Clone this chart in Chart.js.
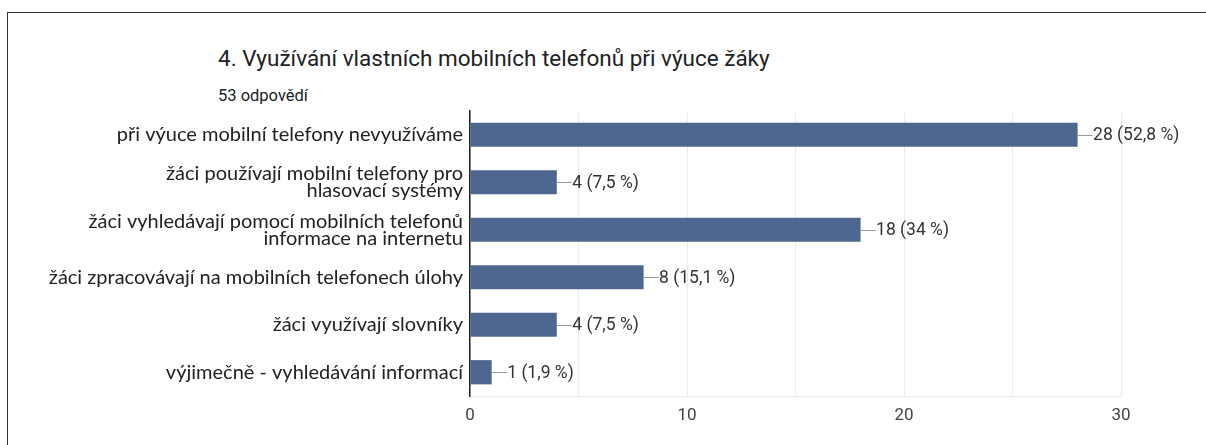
<!DOCTYPE html>
<html>
<head>
<meta charset="utf-8">
<script src="https://cdn.jsdelivr.net/npm/chart.js@4"></script>
<style>
  html, body { margin:0; padding:0; background:#fff; }
  body { width:1206px; height:445px; position:relative; overflow:hidden; }
  #card { position:absolute; left:7px; top:12px; width:1199px; height:433px;
          border-top:1.5px solid #333; border-left:1.5px solid #333; box-sizing:border-box; }
  #title { position:absolute; left:218px; top:45px; font-family:Roboto, sans-serif; font-size:22.5px; line-height:26px; color:#202124; white-space:nowrap; }
  #sub { position:absolute; left:218px; top:86px; font-family:Roboto, sans-serif; font-size:16.5px; line-height:20px; color:#202124; white-space:nowrap; }
  #wrap { position:absolute; left:0; top:0; width:1206px; height:445px; }
</style>
</head>
<body>
<div id="card"></div>
<div id="title">4. Využívání vlastních mobilních telefonů při výuce žáky</div>
<div id="sub">53 odpovědí</div>
<div id="wrap"><canvas id="c"></canvas></div>
<script>
const categories = [
  ["při výuce mobilní telefony nevyužíváme"],
  ["žáci používají mobilní telefony pro", "hlasovací systémy"],
  ["žáci vyhledávají pomocí mobilních telefonů", "informace na internetu"],
  ["žáci zpracovávají na mobilních telefonech úlohy"],
  ["žáci využívají slovníky"],
  ["výjimečně - vyhledávání informací"]
];
const counts = [28, 4, 18, 8, 4, 1];
const percents = ["52,8", "7,5", "34", "15,1", "7,5", "1,9"];
const xTicks = [0, 10, 20, 30];

const valueLabels = {
  id: 'valueLabels',
  afterDatasetsDraw(chart) {
    const ctx = chart.ctx;
    const meta = chart.getDatasetMeta(0);
    ctx.save();
    meta.data.forEach((bar, i) => {
      const x = bar.x, y = bar.y;
      ctx.strokeStyle = '#999';
      ctx.lineWidth = 1;
      ctx.beginPath();
      ctx.moveTo(x, Math.round(y) + 0.5);
      ctx.lineTo(x + 15, Math.round(y) + 0.5);
      ctx.stroke();
      ctx.fillStyle = '#333';
      ctx.font = '17.5px Roboto, sans-serif';
      ctx.textBaseline = 'middle';
      ctx.textAlign = 'left';
      ctx.fillText(counts[i] + ' (' + percents[i] + ' %)', x + 15.5, y + 1);
    });
    ctx.restore();
  }
};

new Chart(document.getElementById('c'), {
  type: 'bar',
  data: {
    labels: categories,
    datasets: [{
      data: counts,
      backgroundColor: '#4e6791',
      borderWidth: 0,
      categoryPercentage: 1,
      barPercentage: 0.51
    }]
  },
  options: {
    indexAxis: 'y',
    responsive: true,
    maintainAspectRatio: false,
    animation: false,
    layout: { padding: { top: 111, right: 85, bottom: 17, left: 0 } },
    plugins: { legend: { display: false }, tooltip: { enabled: false }, title: { display: false } },
    scales: {
      x: {
        min: 0, max: 30,
        ticks: {
          stepSize: 5,
          padding: 10,
          color: '#444',
          font: { family: 'Roboto', size: 17 },
          callback: (v) => xTicks.includes(v) ? String(v) : ''
        },
        grid: { color: '#ebebeb', drawTicks: false },
        border: { display: true, color: '#ebebeb' },
        afterFit(s) { s.height = 32; }
      },
      y: {
        ticks: {
          padding: 7,
          color: '#222',
          font: { family: 'Lato', size: 20, lineHeight: 0.85 },
          autoSkip: false
        },
        grid: { display: false, drawTicks: false },
        border: { display: true, color: '#222', width: 1.5 },
        afterFit(s) { s.width = 470; }
      }
    }
  },
  plugins: [valueLabels]
});
</script>
</body>
</html>
